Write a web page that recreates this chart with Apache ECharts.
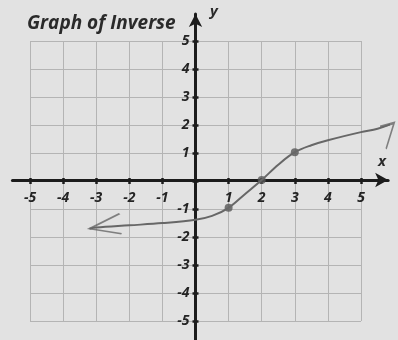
<!DOCTYPE html>
<html>
<head>
<meta charset="utf-8">
<title>Graph of Inverse</title>
<script src="https://cdn.jsdelivr.net/npm/echarts@6/dist/echarts.min.js"></script>
<style>
  html, body { margin: 0; padding: 0; background: #e2e2e2; }
  #chart { width: 398px; height: 340px; }
</style>
</head>
<body>
<div id="chart"></div>
<script>
// Hand-drawn inverse curve, sampled along the stroke
const curveX = [-3.2, -3, -2, -1, 0, 0.5, 1, 1.5, 2, 2.5, 3, 3.5, 4, 5, 5.5, 6.0];
const curveY = [-1.75, -1.71, -1.63, -1.55, -1.43, -1.29, -1.0, -0.5, 0, 0.55, 1.0, 1.25, 1.43, 1.72, 1.84, 2.05];

// Plotted points on the curve
const pointX = [1, 2, 3];
const pointY = [-1, 0, 1];

// Tick values on both axes
const ticks = [-5, -4, -3, -2, -1, 0, 1, 2, 3, 4, 5];

// Layout: one unit in pixels on each axis, origin position
const UX = 33.1, UY = 28;
const OX = 195.5, OY = 181;
const PAPER = 5;                      // graph paper spans -5..5
const AX = { min: -5.53, max: 5.82 }; // x-axis line extent
const AY = { min: -5.75, max: 5.96 }; // y-axis line extent

const INK = '#1c1c1c';
const PEN = '#676767';
const GRIDC = '#b4b4b4';
const labelFont = { fontFamily: 'Open Sans', fontWeight: 'bold', fontStyle: 'italic', fontSize: 14, color: '#242424' };

const tickFmt = v => (v === 0 ? '' : String(v));

// paper grid (index 0) and the long axes with arrows (index 1)
const grids = [
  { left: OX - PAPER * UX, top: OY - PAPER * UY, width: 2 * PAPER * UX, height: 2 * PAPER * UY },
  { left: OX + AX.min * UX, top: OY - AY.max * UY, width: (AX.max - AX.min) * UX, height: (AY.max - AY.min) * UY }
];

// axes of the paper grid are shifted onto the origin lines with offset,
// one copy per side so the tick marks cross the axis lines
const halfW = PAPER * UX, halfH = PAPER * UY;
const tickStyle = { show: true, inside: false, length: 3, lineStyle: { color: INK, width: 2.5 } };

function paperAxis(extra) {
  return Object.assign({
    type: 'value', gridIndex: 0, min: ticks[0], max: ticks[ticks.length - 1], interval: 1,
    axisLine: { show: false, onZero: false },
    splitLine: { show: false },
    axisTick: tickStyle,
    axisLabel: { show: false }
  }, extra);
}

const xAxes = [
  paperAxis({
    position: 'bottom', offset: -halfH,
    splitLine: { show: true, lineStyle: { color: GRIDC, width: 1 } },
    axisLabel: Object.assign({ show: true, margin: 10, formatter: tickFmt }, labelFont)
  }),
  paperAxis({ position: 'top', offset: -halfH }),
  {
    type: 'value', gridIndex: 1, min: AX.min, max: AX.max,
    axisLine: { show: true, onZero: true, symbol: ['none', 'arrow'], symbolSize: [11, 13], lineStyle: { color: INK, width: 3 } },
    axisTick: { show: false }, axisLabel: { show: false }, splitLine: { show: false }
  }
];

const yAxes = [
  paperAxis({
    position: 'left', offset: -halfW,
    splitLine: { show: true, lineStyle: { color: GRIDC, width: 1 } },
    axisLabel: Object.assign({ show: true, margin: 6, padding: [6, 0, 0, 0], formatter: tickFmt }, labelFont)
  }),
  paperAxis({ position: 'right', offset: -halfW }),
  {
    type: 'value', gridIndex: 1, min: AY.min, max: AY.max,
    axisLine: { show: true, onZero: true, symbol: ['none', 'arrow'], symbolSize: [10, 13], lineStyle: { color: INK, width: 3 } },
    axisTick: { show: false }, axisLabel: { show: false }, splitLine: { show: false }
  }
];

const curve = curveX.map((x, i) => [x, curveY[i]]);
const dots = pointX.map((x, i) => [x, pointY[i]]);
const first = curve[0];
const last = curve[curve.length - 1];

const option = {
  backgroundColor: '#e2e2e2',
  animation: false,
  grid: grids,
  xAxis: xAxes,
  yAxis: yAxes,
  title: {
    text: 'Graph of Inverse', left: 22, top: 9,
    textStyle: { fontFamily: 'Open Sans', fontWeight: 'bold', fontStyle: 'italic', fontSize: 19, color: '#2a2a2a' }
  },
  graphic: [
    { type: 'text', left: 210, top: 4, style: { text: 'y', font: 'italic bold 15px "Open Sans"', fill: '#2a2a2a' } },
    { type: 'text', left: 378, top: 154, style: { text: 'x', font: 'italic bold 15px "Open Sans"', fill: '#2a2a2a' } }
  ],
  series: [
    {
      type: 'line', xAxisIndex: 2, yAxisIndex: 2, data: curve, smooth: 0.35,
      showSymbol: false, clip: false,
      lineStyle: { color: PEN, width: 2 }
    },
    {
      type: 'scatter', xAxisIndex: 2, yAxisIndex: 2, clip: false,
      itemStyle: { color: 'rgba(0,0,0,0)', borderColor: PEN, borderWidth: 2 },
      data: [
        { value: first, symbol: 'path://M30,0L0,15L32,20', symbolSize: [32, 20], symbolOffset: [16, -5] },
        { value: last, symbol: 'path://M0,4L14,0L6,26', symbolSize: [14, 26], symbolOffset: [-7, 13] }
      ]
    },
    {
      type: 'scatter', xAxisIndex: 2, yAxisIndex: 2, data: dots,
      symbol: 'circle', symbolSize: 8,
      itemStyle: { color: '#585858' }
    }
  ]
};

echarts.init(document.getElementById('chart'), null, { renderer: 'canvas' }).setOption(option);
</script>
</body>
</html>
